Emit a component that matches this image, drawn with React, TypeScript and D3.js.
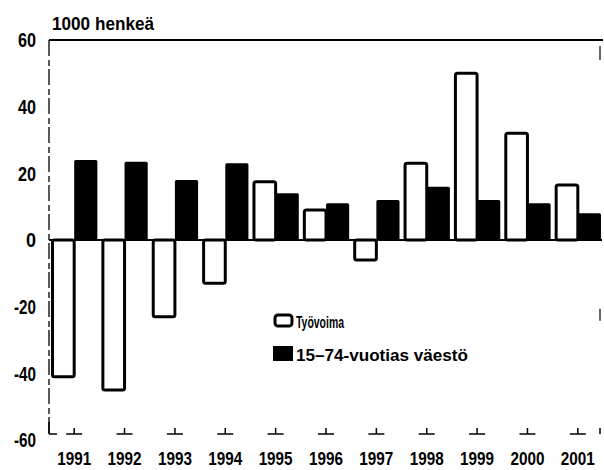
import * as d3 from 'd3'

const years = ['1991', '1992', '1993', '1994', '1995', '1996', '1997', '1998', '1999', '2000', '2001']
const tyovoima = [-41, -45, -23, -13, 17.5, 9, -6, 23, 50, 32, 16.5]
const vaesto = [24, 23.5, 18, 23, 14, 11, 12, 16, 12, 11, 8]
const yTicks = [60, 40, 20, 0, -20, -40, -60]

const W = 604
const H = 470
const FONT = '"Liberation Sans", Arial, sans-serif'

export default function App() {
  const left = 49, right = 603, top = 40, bottom = 440
  const axisY = 434

  const x = d3.scaleBand().domain(years).range([left, right]).paddingInner(0.08).paddingOuter(0.04)
  const y = d3.scaleLinear().domain([-60, 60]).range([bottom, top])
  const half = x.bandwidth() / 2

  const rect = (v: number) => ({ y: Math.min(y(v), y(0)), h: Math.abs(y(v) - y(0)) })
  const labelW = (t: number) => (t === 0 ? 10 : t < 0 ? 22 : 18)

  return (
    <svg width={W} height={H} style={{ position: 'absolute', left: 0, top: 0, background: '#fff' }}
      fontFamily={FONT} fontWeight="bold">
      {/* frame */}
      <line x1={left} x2={right} y1={top} y2={top} stroke="#000" strokeWidth={2} />
      <line x1={left} x2={left} y1={top} y2={axisY} stroke="#000" strokeWidth={1.3} strokeDasharray="16 4 6 3" />
      <line x1={left} x2={left} y1={axisY - 12} y2={axisY} stroke="#000" strokeWidth={1.5} />
      <line x1={left} x2={left + 8} y1={axisY} y2={axisY} stroke="#000" strokeWidth={1.5} />
      <line x1={right - 3} x2={right - 3} y1={axisY - 6} y2={axisY} stroke="#000" strokeWidth={1.5} />
      <line x1={right - 3} x2={right - 3} y1={top + 6} y2={top + 20} stroke="#000" strokeWidth={1.2} />
      <line x1={right - 3} x2={right - 3} y1={y(-20) + 2} y2={y(-20) + 14} stroke="#000" strokeWidth={1.2} />
      {years.map(yr => {
        const cx = (x(yr) ?? 0) + half
        return (
          <g key={yr}>
            <line x1={cx} x2={cx} y1={axisY - 6} y2={axisY} stroke="#000" strokeWidth={1.5} />
            <line x1={cx - 8} x2={cx + 8} y1={axisY} y2={axisY} stroke="#000" strokeWidth={1.5} />
          </g>
        )
      })}

      {/* y tick labels */}
      {yTicks.map(t => (
        <text key={t} x={36 - labelW(t)} y={y(t)} dy="0.36em" fontSize={20}
          textLength={labelW(t)} lengthAdjust="spacingAndGlyphs">{t}</text>
      ))}
      <text x={52} y={30} fontSize={18} textLength={102} lengthAdjust="spacingAndGlyphs">1000 henkeä</text>

      {/* bars */}
      {years.map((yr, i) => {
        const x0 = x(yr) ?? 0
        const a = rect(tyovoima[i])
        const b = rect(vaesto[i])
        return (
          <g key={yr}>
            <rect x={x0 + 1.5} y={a.y} width={half - 1.5} height={a.h} fill="#fff" stroke="#000"
              strokeWidth={3} rx={2} />
            <rect x={x0 + half} y={b.y} width={half} height={b.h} fill="#000" rx={1.5} />
          </g>
        )
      })}
      <line x1={left} x2={right - 1} y1={y(0)} y2={y(0)} stroke="#000" strokeWidth={2} />

      {/* x labels */}
      {years.map(yr => {
        const cx = (x(yr) ?? 0) + half
        return (
          <text key={yr} x={cx - 17} y={465} fontSize={19} textLength={34}
            lengthAdjust="spacingAndGlyphs">{yr}</text>
        )
      })}

      {/* legend */}
      <rect x={275} y={315} width={17} height={11} fill="#fff" stroke="#000" strokeWidth={3} rx={3} />
      <text x={296} y={328} fontSize={17} textLength={48} lengthAdjust="spacingAndGlyphs">Työvoima</text>
      <rect x={273} y={346} width={20} height={15} fill="#000" />
      <text x={296} y={361} fontSize={17} textLength={172} lengthAdjust="spacingAndGlyphs">15–74-vuotias väestö</text>
    </svg>
  )
}
